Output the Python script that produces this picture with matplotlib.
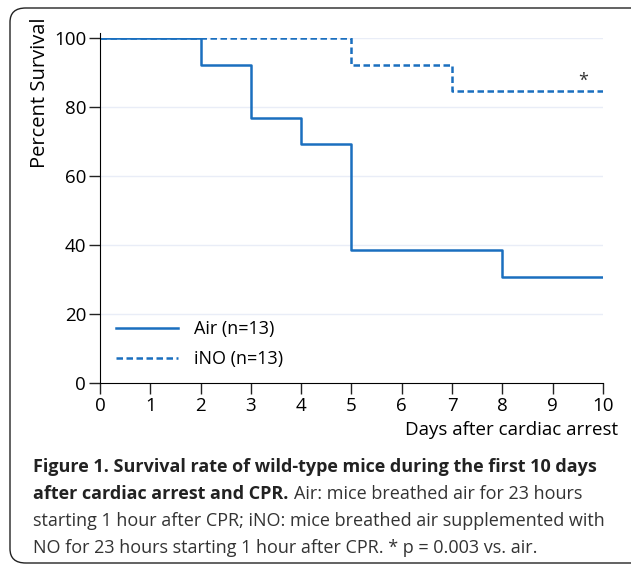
import matplotlib.pyplot as plt
from matplotlib.patches import FancyBboxPatch

# Kaplan-Meier steps
air_days = [0, 2, 3, 4, 5, 8, 10]
air_surv = [100, 92.3, 76.9, 69.2, 38.5, 30.8, 30.8]
ino_days = [0, 5, 7, 10]
ino_surv = [100, 92.3, 84.6, 84.6]

x_ticks = list(range(0, 11))
y_ticks = [0, 20, 40, 60, 80, 100]

BLUE = '#1a6fbf'
FONT = 'Open Sans'
CAP = 13.0

plt.rcParams['font.family'] = [FONT, 'DejaVu Sans']

fig = plt.figure(figsize=(6.31, 5.66), dpi=100)
ax = fig.add_axes([0.1585, 0.3233, 0.797, 0.6095])

# Rounded frame around the figure
frame = FancyBboxPatch((10 / 631, 3 / 566), 640 / 631, 555 / 566,
                       boxstyle='round,pad=0,rounding_size=0.025',
                       transform=fig.transFigure, fill=False,
                       ec='#222222', lw=1.0, clip_on=False)
fig.patches.append(frame)

for y in y_ticks[1:]:
    ax.axhline(y, color='#e9edf7', lw=1.0, zorder=0)

ax.step(air_days, air_surv, where='post', color=BLUE, lw=1.8, label='Air (n=13)')
ax.step(ino_days, ino_surv, where='post', color=BLUE, lw=1.8, ls=(0, (2.6, 1.4)),
        label='iNO (n=13)')

ax.text(9.6, 87.5, '*', ha='center', va='center', fontsize=13, color='#333333')

ax.set_xlim(0, 10)
ax.set_ylim(0, 100)
ax.set_xticks(x_ticks)
ax.set_yticks(y_ticks)
ax.tick_params(axis='both', direction='out', length=8, width=1, labelsize=13.5,
               color='#222222', pad=2)
for s in ['top', 'right']:
    ax.spines[s].set_visible(False)
ax.spines['left'].set_bounds(0, 101.5)
ax.spines['left'].set_clip_on(False)

ax.set_ylabel('Percent Survival', fontsize=14.5)
ax.yaxis.set_label_coords(-0.1, 0.84)
ax.text(618 / 631, 1 - 430 / 566, 'Days after cardiac arrest',
        transform=fig.transFigure, ha='right', va='center', fontsize=13.5)

ax.legend(loc='lower left', bbox_to_anchor=(0.0, -0.005), frameon=False,
          fontsize=13, handlelength=3.4, handletextpad=0.9, labelspacing=0.7)

# Caption
x0 = 33 / 631
fig.text(x0, 1 - 467 / 566,
         'Figure 1. Survival rate of wild-type mice during the first 10 days',
         fontsize=CAP, fontweight='bold', va='center', color='#222222')
bold = fig.text(x0, 1 - 494 / 566, 'after cardiac arrest and CPR.',
                fontsize=CAP, fontweight='bold', va='center', color='#222222')
fig.canvas.draw()
bb = bold.get_window_extent()
fig.text(bb.x1 / fig.bbox.width + 6 / 631, 1 - 494 / 566,
         'Air: mice breathed air for 23 hours',
         fontsize=CAP, va='center', color='#333333')
fig.text(x0, 1 - 521 / 566,
         'starting 1 hour after CPR; iNO: mice breathed air supplemented with',
         fontsize=CAP, va='center', color='#333333')
fig.text(x0, 1 - 548 / 566,
         'NO for 23 hours starting 1 hour after CPR. * p = 0.003 vs. air.',
         fontsize=CAP, va='center', color='#333333')

fig.savefig('out.png', dpi=100)
